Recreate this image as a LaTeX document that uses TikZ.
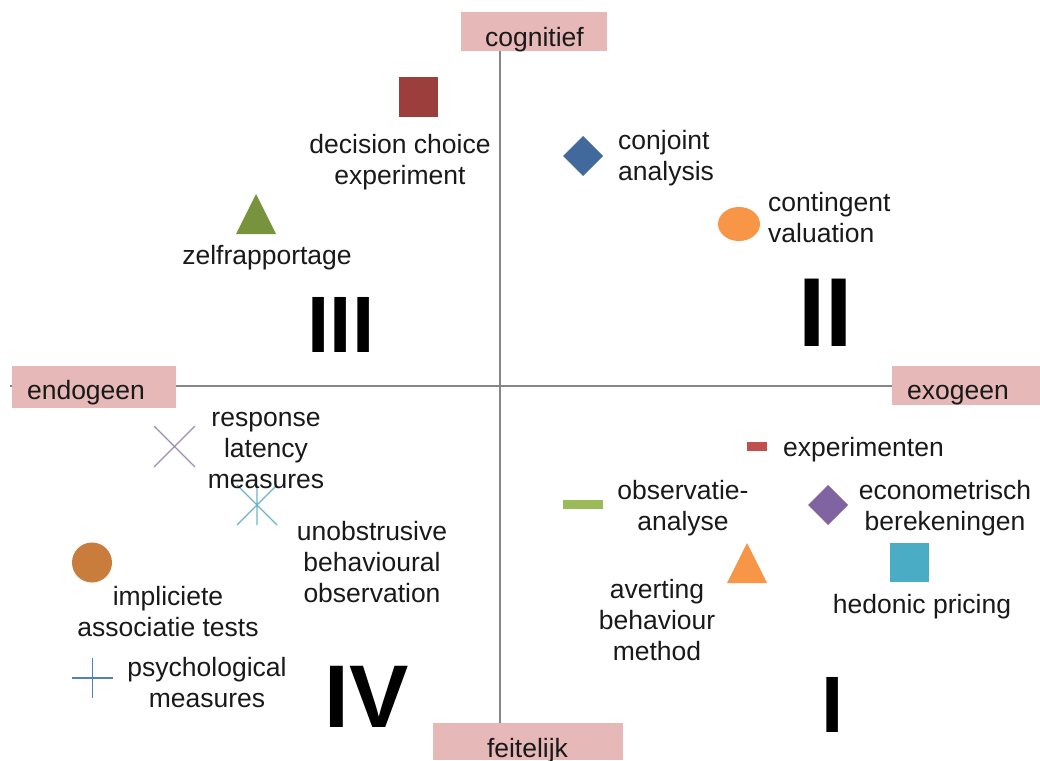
\documentclass[tikz,border=0pt]{standalone}
\usepackage{fontspec}
\setmainfont{Liberation Sans}

\definecolor{axisgray}{RGB}{134,134,134}
\definecolor{boxpink}{RGB}{230,185,184}
\definecolor{decred}{RGB}{155,62,60}
\definecolor{zelfgreen}{RGB}{119,147,60}
\definecolor{conjblue}{RGB}{65,105,156}
\definecolor{contorange}{RGB}{247,150,70}
\definecolor{respurple}{RGB}{160,140,185}
\definecolor{unoteal}{RGB}{110,180,200}
\definecolor{implbrown}{RGB}{200,125,60}
\definecolor{psyblue}{RGB}{79,129,189}
\definecolor{expred}{RGB}{192,80,77}
\definecolor{obsgreen}{RGB}{155,187,89}
\definecolor{ecopurple}{RGB}{128,100,162}
\definecolor{hedteal}{RGB}{75,172,198}

\begin{document}
\begin{tikzpicture}[x=1pt,y=-1pt,
    lbl/.style={font=\fontsize{26.5}{31}\selectfont, text=black!90, align=center, inner sep=0pt, anchor=base},
    lblleft/.style={lbl, align=left, anchor=base west},
    numeral/.style={font=\bfseries\fontsize{#1}{#1}\selectfont, inner sep=0pt, anchor=base}]
  \useasboundingbox (0,0) rectangle (1040,760);
  % axes
  \draw[axisgray, line width=1.3pt] (500,51) -- (500,723);
  \draw[axisgray, line width=1.3pt] (10,386) -- (1035,386);
  % axis labels
  \fill[boxpink] (461,12) rectangle (607,51);
  \fill[boxpink] (12,366) rectangle (176,408);
  \fill[boxpink] (892,366) rectangle (1040,405);
  \fill[boxpink] (433,723) rectangle (623,760);
  \node[lbl] (cog) at (534.5,46) {cognitief};
  \node[lbl] (endo) at (86,399) {endogeen};
  \node[lbl] (exo) at (958,399) {exogeen};
  \node[lbl] (feit) at (527.5,757) {feitelijk};

  % quadrants
  \node[numeral=80] (qIII) at (341,352) {III};
  \node[numeral=98] (qII) at (825.5,346) {II};
  \node[numeral=89] (qIV) at (367,727) {IV};
  \node[numeral=80] (qI) at (833,732) {I};

  % markers
  \fill[decred] (399,77) rectangle (438,117);
  \fill[zelfgreen] (236,234) -- (256,194) -- (276,234) -- cycle;
  \fill[conjblue] (563,156) -- (583,136) -- (603,156) -- (583,176) -- cycle;
  \fill[contorange] (739,224) ellipse [x radius=21pt, y radius=17pt];
  \draw[respurple, line width=1.2pt] (154,426) -- (195,467) (154,467) -- (195,426);
  \draw[unoteal, line width=1.2pt] (237,485) -- (277,525) (237,525) -- (277,485) (257,485) -- (257,525);
  \fill[implbrown] (92,562.5) circle [radius=20pt];
  \draw[psyblue, line width=1.2pt] (72,678) -- (113,678) (92.5,658) -- (92.5,698);
  \fill[expred] (747,442) rectangle (767,451);
  \fill[obsgreen] (563,500) rectangle (603,509);
  \fill[ecopurple] (808,505) -- (828,485) -- (848,505) -- (828,525) -- cycle;
  \fill[contorange] (727,583) -- (747,543) -- (767,583) -- cycle;
  \fill[hedteal] (890,543) rectangle (929,582);

  % labels (base = last line)
  \node[lbl] (dce) at (400,184) {decision choice\\experiment};
  \node[lbl] (zelf) at (267,264) {zelfrapportage};
  \node[lblleft] (conj) at (618,180) {conjoint\\analysis};
  \node[lblleft] (cont) at (768,242) {contingent\\valuation};
  \node[lbl] (resp) at (266,488) {response\\latency\\measures};
  \node[lbl] (uno) at (372,602) {unobstrusive\\behavioural\\observation};
  \node[lbl] (impl) at (168,636) {impliciete\\associatie tests};
  \node[lbl] (psy) at (207,707) {psychological\\measures};
  \node[lblleft] (exper) at (783,456) {experimenten};
  \node[lbl] (obs) at (683,530) {observatie-\\analyse};
  \node[lbl] (eco) at (945,530) {econometrisch\\berekeningen};
  \node[lbl] (avert) at (657,660) {averting\\behaviour\\method};
  \node[lbl] (hed) at (922,613) {hedonic pricing};
\end{tikzpicture}
\end{document}
